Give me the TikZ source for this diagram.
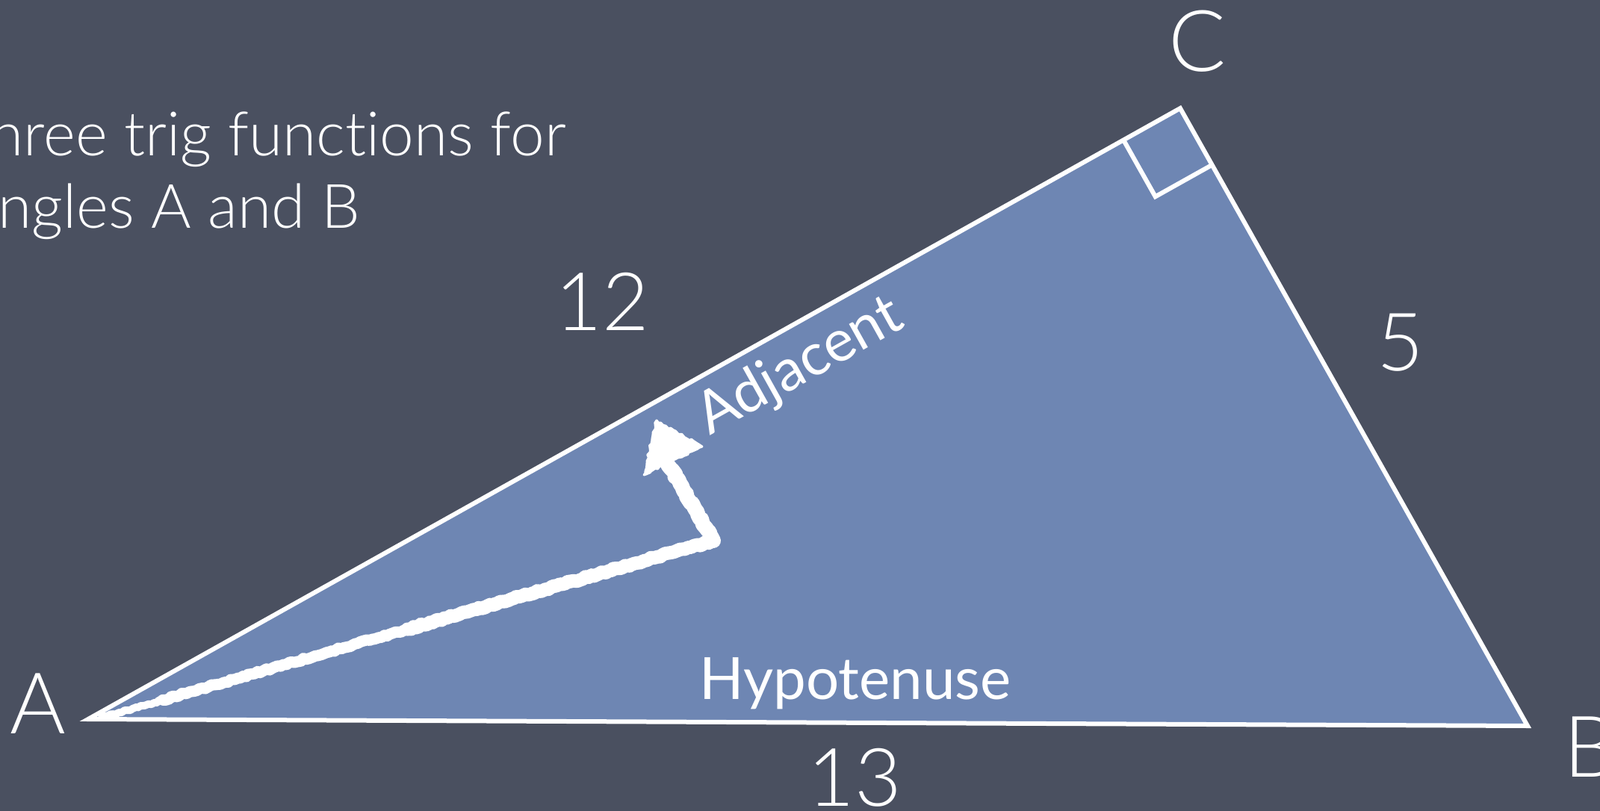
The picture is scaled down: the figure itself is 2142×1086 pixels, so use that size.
\documentclass[tikz,border=0pt]{standalone}
\usepackage{fontspec}
\setmainfont{Lato}[UprightFont={* Light}, Ligatures={NoCommon}]
\newfontfamily\latoreg{Lato}[Ligatures={NoCommon}]
\usetikzlibrary{calc,decorations.pathmorphing}
\definecolor{board}{RGB}{74,80,96}
\definecolor{tri}{RGB}{110,134,179}
\begin{document}
\begin{tikzpicture}[x=0.5pt,y=-0.5pt,
  lbl/.style={text=white, inner sep=0pt},
  big/.style={lbl, font=\fontsize{57}{57}\selectfont},
  num/.style={lbl, font=\fontsize{54}{54}\selectfont},
  mid/.style={lbl, font=\latoreg\fontsize{39}{39}\selectfont},
  title/.style={lbl, font=\fontsize{41}{41}\selectfont, anchor=base west},
  edge/.style={draw=white, line width=3pt, line join=miter},
  chalk/.style={draw=white, line cap=round, line join=round, decorate,
    decoration={random steps, segment length=2pt, amplitude=0.7pt}},
  chalkfill/.style={fill=white, draw=white, line width=1.5pt, line join=round, decorate,
    decoration={random steps, segment length=2pt, amplitude=0.8pt}}]
\fill[board] (0,0) rectangle (2142,1086);
\useasboundingbox (0,0) rectangle (2142,1086);
% vertices
\coordinate (A) at (118,963);
\coordinate (B) at (2045,972);
\coordinate (C) at (1580,145);
% triangle
\filldraw[fill=tri, edge] (A) -- (C) -- (B) -- cycle;
% right angle mark
\coordinate (P1) at ($(C)!43.5pt!(A)$);
\coordinate (P2) at ($(C)!43.5pt!(B)$);
\coordinate (P3) at ($(P1)+(P2)-(C)$);
\draw[edge] (P1) -- (P3) -- (P2);
% chalk arrow
\coordinate (s0) at (136,961);
\coordinate (bend) at (955,724);
\coordinate (stemtop) at (893,618);
\coordinate (tip) at (879,563);
\coordinate (h1) at (862,636);
\coordinate (h2) at (940,598);
\draw[chalk, line width=5pt] (s0) -- ($(s0)!0.3!(bend)$);
\draw[chalk, line width=7.5pt] ($(s0)!0.1!(bend)$) -- (bend);
\draw[chalk, line width=9pt] ($(s0)!0.5!(bend)$) -- (bend);
\draw[chalk, line width=10pt] (bend) -- (stemtop);
\filldraw[chalkfill] (tip) -- (h1) -- (h2) -- cycle;
% labels
\node[big, anchor=center] (lA) at (51,942) {A};
\node[big, anchor=west] (lB) at (2093,1000) {B};
\node[big, anchor=center] (lC) at (1603,55) {C};
\node[num, anchor=center] (l12) at (806,404) {12};
\node[num, anchor=center] (l5) at (1875,459) {5};
\node[num, anchor=center] (l13) at (1144,1041) {13};
\node[mid, anchor=base] (lhyp) at (1145,936) {Hypotenuse};
\node[mid, anchor=base west, rotate=29.2] (ladj) at (950,584) {Adjacent};
% title
\node[title] (t1) at (-14,208) {hree trig functions for};
\node[title] (t2) at (-3,305) {ngles A and B};
\end{tikzpicture}
\end{document}
